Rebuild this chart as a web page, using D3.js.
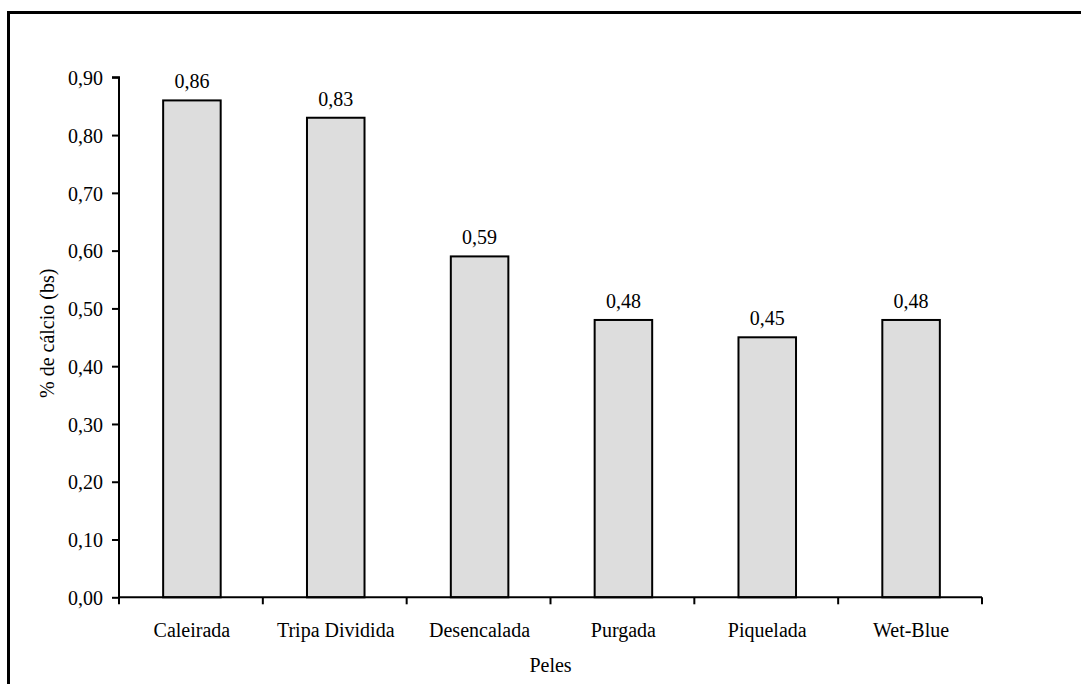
<!DOCTYPE html>
<html>
<head>
<meta charset="utf-8">
<script src="https://cdn.jsdelivr.net/npm/d3@7"></script>
</head>
<body style="margin:0;padding:0;background:#fff">
<svg id="chart" width="1081" height="684" style="display:block"></svg>
<script>
// Calcium content by hide processing stage
const categories = ["Caleirada", "Tripa Dividida", "Desencalada", "Purgada", "Piquelada", "Wet-Blue"];
const values = [0.86, 0.83, 0.59, 0.48, 0.45, 0.48];
const yTicks = [0, 0.1, 0.2, 0.3, 0.4, 0.5, 0.6, 0.7, 0.8, 0.9];
const yTitle = "% de cálcio (bs)";
const xTitle = "Peles";

const FONT = '"Liberation Serif"';
const fontSize = 20;
const fmt = v => d3.format(".2f")(v).replace(".", ",");

const svg = d3.select("#chart");
const plot = { left: 119, right: 982, top: 77.3, bottom: 597.3 };

// outer frame (extends past the right and bottom edges)
svg.append("rect")
  .attr("x", 8.5).attr("y", 12.5)
  .attr("width", 1100).attr("height", 700)
  .attr("fill", "none").attr("stroke", "#000").attr("stroke-width", 3);

const x = d3.scaleBand()
  .domain(categories)
  .range([plot.left, plot.right])
  .paddingInner(0.6).paddingOuter(0.3);

const y = d3.scaleLinear()
  .domain([0, 0.9])
  .range([plot.bottom, plot.top]);

function styleText(sel) {
  sel.style("font-family", FONT)
     .style("font-size", fontSize + "px")
     .attr("fill", "#000");
}

// bars
svg.append("g").selectAll("rect")
  .data(categories)
  .join("rect")
  .attr("x", d => x(d) + 1)
  .attr("width", x.bandwidth())
  .attr("y", (d, i) => y(values[i]))
  .attr("height", (d, i) => y(0) - y(values[i]))
  .attr("fill", "#dddddd")
  .attr("stroke", "#000")
  .attr("stroke-width", 2);

// value labels
svg.append("g").selectAll("text")
  .data(categories)
  .join("text")
  .attr("x", d => x(d) + 1 + x.bandwidth() / 2)
  .attr("y", (d, i) => y(values[i]) - 12)
  .attr("text-anchor", "middle")
  .text((d, i) => fmt(values[i]))
  .call(styleText);

// y axis
const yAxis = d3.axisLeft(y)
  .tickValues(yTicks)
  .tickFormat(fmt)
  .tickSize(7)
  .tickPadding(9);
const yg = svg.append("g")
  .attr("transform", `translate(${plot.left},0)`)
  .call(yAxis)
  .attr("font-family", null)
  .attr("font-size", null);
yg.select(".domain").attr("d", `M-7,${plot.top}H0V${plot.bottom}`);
yg.selectAll("path, line").attr("stroke", "#000").attr("stroke-width", 2);
yg.selectAll("text").attr("dy", "0.36em").call(styleText);

// x axis: ticks at category boundaries
const boundaries = d3.range(categories.length + 1)
  .map(i => plot.left + i * (plot.right - plot.left) / categories.length);
const xg = svg.append("g");
xg.append("line")
  .attr("x1", plot.left).attr("x2", plot.right)
  .attr("y1", plot.bottom).attr("y2", plot.bottom)
  .attr("stroke", "#000").attr("stroke-width", 2);
xg.selectAll("line.tick")
  .data(boundaries)
  .join("line")
  .attr("class", "tick")
  .attr("x1", d => d).attr("x2", d => d)
  .attr("y1", plot.bottom).attr("y2", plot.bottom + 7)
  .attr("stroke", "#000").attr("stroke-width", 2);
xg.selectAll("text")
  .data(categories)
  .join("text")
  .attr("x", d => x(d) + 1 + x.bandwidth() / 2)
  .attr("y", 637)
  .attr("text-anchor", "middle")
  .text(d => d)
  .call(styleText);

// axis titles
svg.append("text")
  .attr("x", (plot.left + plot.right) / 2)
  .attr("y", 672)
  .attr("text-anchor", "middle")
  .text(xTitle)
  .call(styleText);

svg.append("text")
  .attr("transform", `translate(54,${(plot.top + plot.bottom) / 2 - 4}) rotate(-90)`)
  .attr("text-anchor", "middle")
  .text(yTitle)
  .call(styleText);
</script>
</body>
</html>
